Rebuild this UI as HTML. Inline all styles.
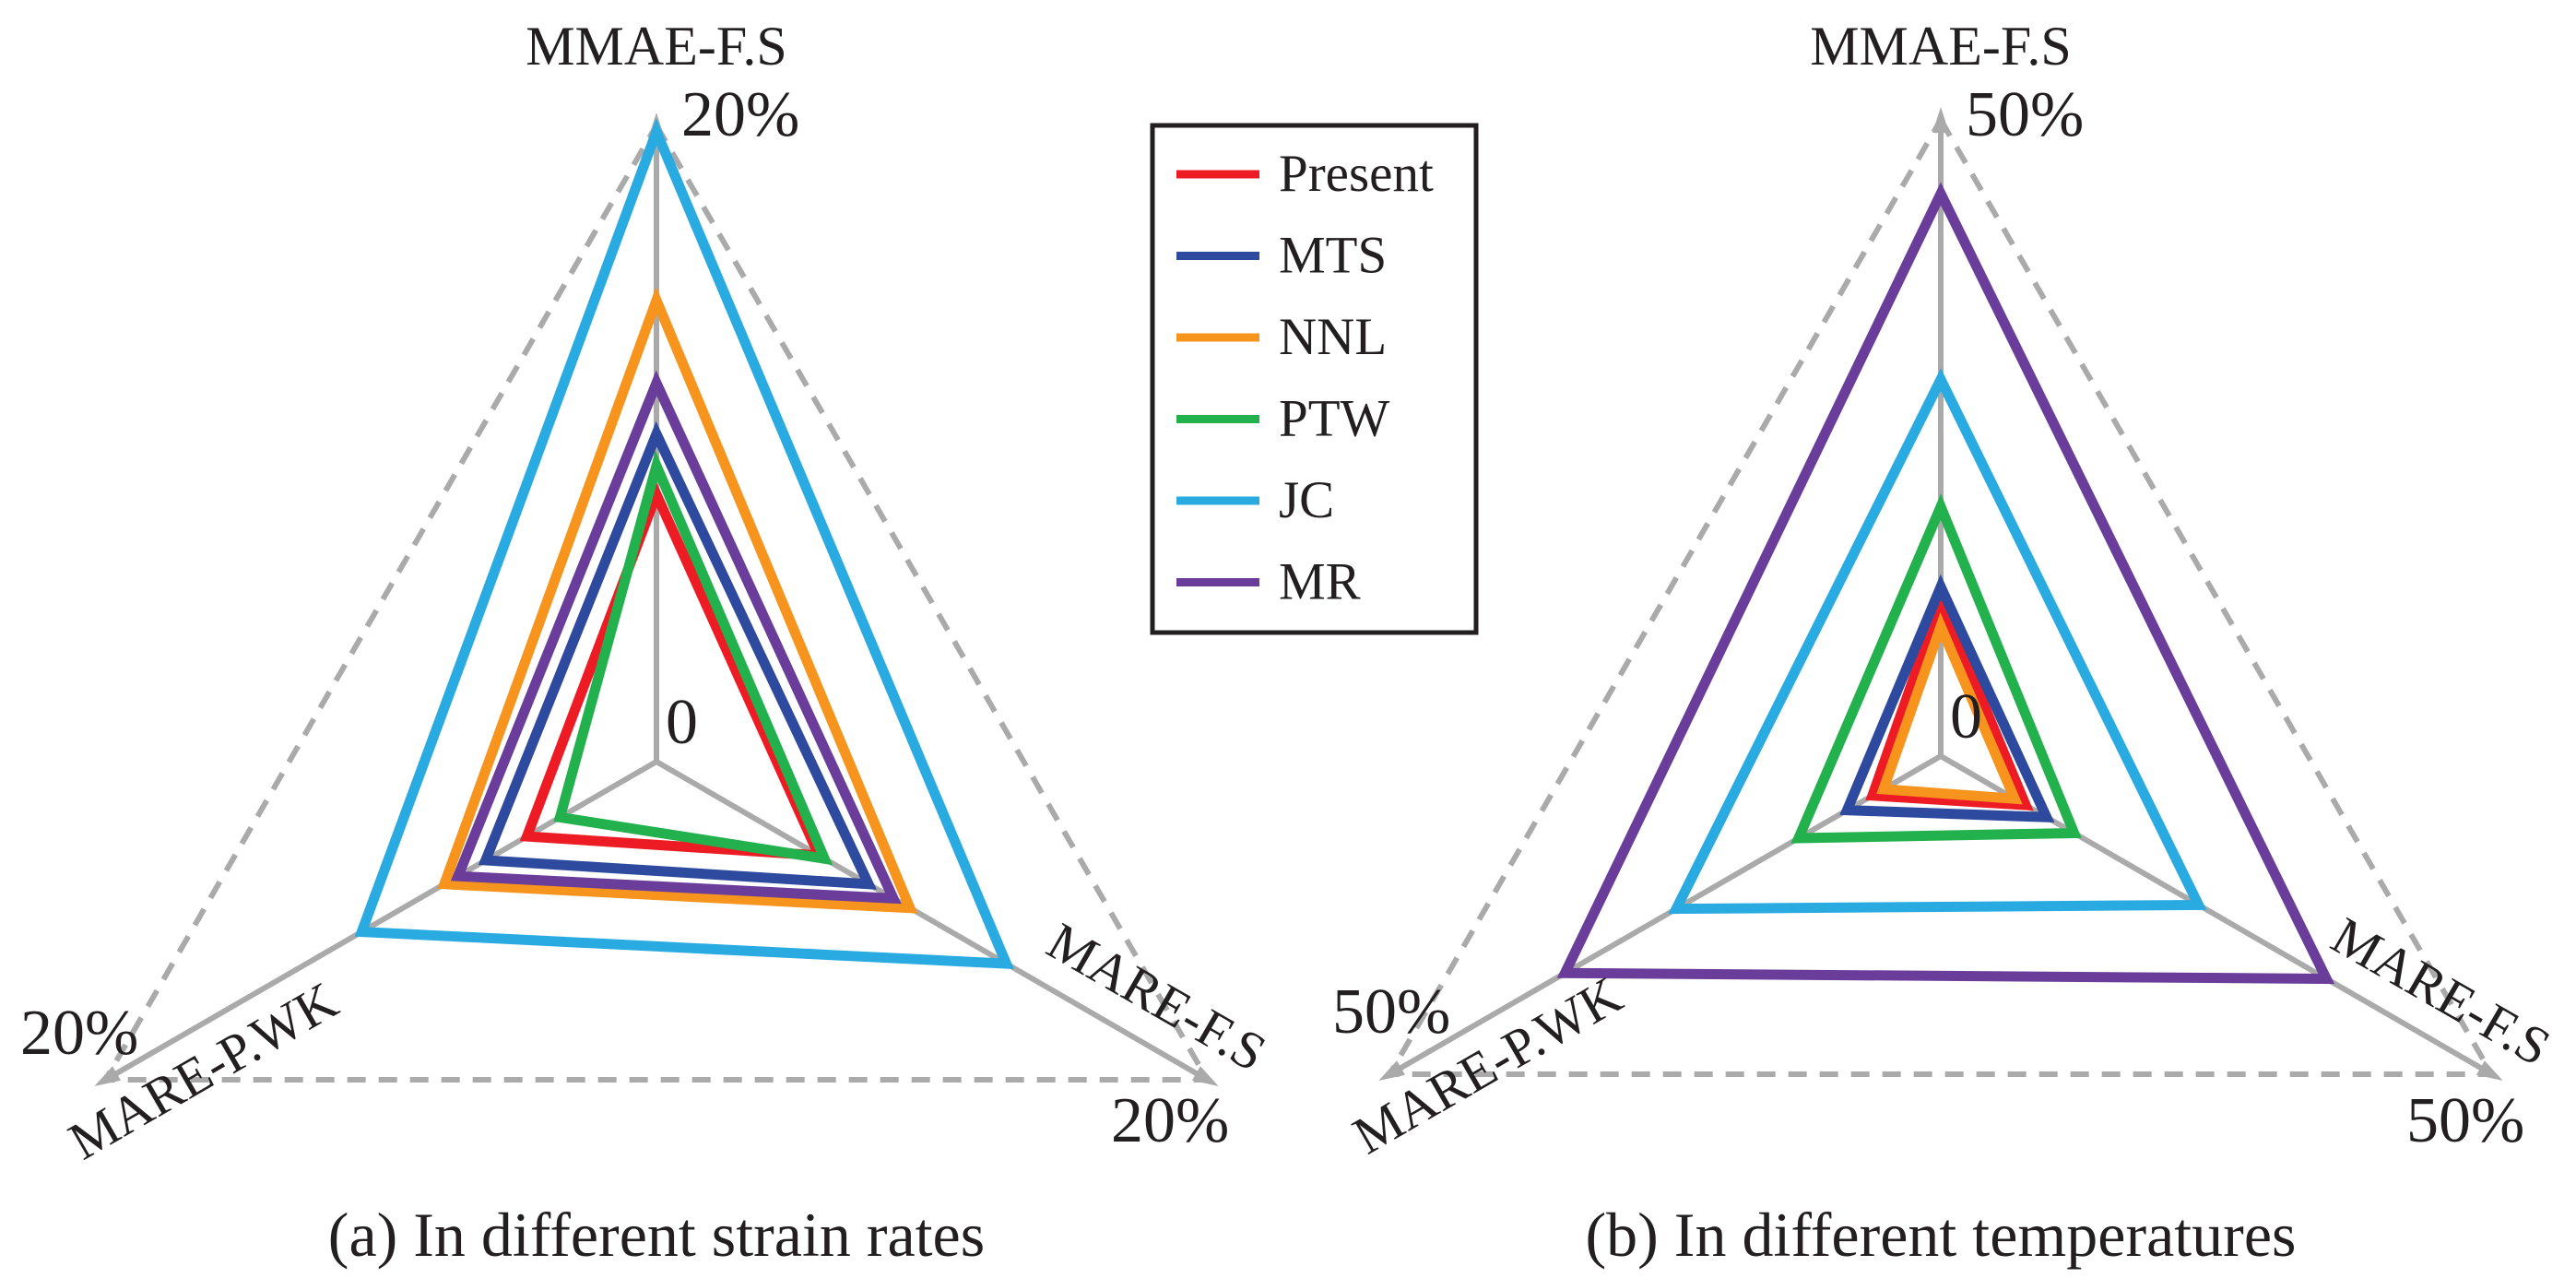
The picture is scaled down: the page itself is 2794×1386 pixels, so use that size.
<!DOCTYPE html>
<html><head><meta charset="utf-8"><style>
html,body{margin:0;padding:0;background:#fff;}
svg text{font-family:"Liberation Serif","DejaVu Serif","Times New Roman",serif !important;fill:#231f20;}
</style></head><body>
<svg id="chart" width="2794" height="1381" viewBox="0 0 2794 1381" xmlns="http://www.w3.org/2000/svg" font-family="Liberation Serif, DejaVu Serif, serif">
<g id="legend">
<rect x="1250" y="136" width="351" height="550" fill="#fff" stroke="#231f20" stroke-width="5"/>
</g>
</svg>
<script>
const seriesNames = ["Present","MTS","NNL","PTW","JC","MR"];
const seriesColors = ["#ed1c24","#2e4a9e","#f7941d","#22b14c","#29abe2","#6a3d9a"];
const axisNames = ["MMAE-F.S","MARE-F.S","MARE-P.WK"];
// values [top, lower-right, lower-left] in %
const strainPresent = [8.4, 5.9, 4.7];
const strainMTS = [10.3, 7.7, 6.2];
const strainNNL = [14.5, 9.2, 7.7];
const strainPTW = [9.3, 6.1, 3.5];
const strainJC = [19.8, 12.7, 10.7];
const strainMR = [11.9, 8.6, 7.2];
const tempPresent = [12.2, 7.7, 6.2];
const tempMTS = [13.3, 9.6, 8.5];
const tempNNL = [10.2, 6.7, 5.2];
const tempPTW = [19.6, 12.1, 12.9];
const tempJC = [29.6, 23.4, 24.0];
const tempMR = [44.2, 35.0, 34.1];
const strainMax = 20, tempMax = 50;
const strainTick = "20%", tempTick = "50%";

const NS = "http://www.w3.org/2000/svg";
const FONT = "Liberation Serif, DejaVu Serif, serif";
const svg = document.getElementById('chart');
function mk(tag, attrs, parent){const e=document.createElementNS(NS,tag);for(const k in attrs)e.setAttribute(k,attrs[k]);if(tag==='text')e.setAttribute('font-family',FONT);(parent||svg).appendChild(e);return e;}
const R = 690;
const angles = [-90, 30, 150];
function pt(cx,cy,r,i){const a=angles[i]*Math.PI/180;return [cx+r*Math.cos(a), cy+r*Math.sin(a)];}

function drawPanel(cx, cy, max, tick, data, caption, key){
  const g = mk('g',{});
  
  
  const ends=[0,1,2].map(i=>pt(cx,cy,R,i));
  const tri = mk('polygon',{points:ends.map(p=>p.join(',')).join(' '),fill:'none',stroke:'#aaa','stroke-width':6,'stroke-dasharray':'20 14'},g);
  
  
  for(let i=0;i<3;i++){
    const e=pt(cx,cy,R-12,i);
    const ax = mk('line',{x1:cx,y1:cy,x2:e[0],y2:e[1],stroke:'#aaa','stroke-width':6},g);
    
    
    const a=angles[i]*Math.PI/180, tip=pt(cx,cy,R+14,i);
    const px=-Math.sin(a), py=Math.cos(a);
    const b=pt(cx,cy,R-14,i);
    const ah = mk('polygon',{points:`${tip[0]},${tip[1]} ${b[0]+px*9},${b[1]+py*9} ${b[0]-px*9},${b[1]-py*9}`,fill:'#aaa'},g);
    
    
  }
  data.forEach((vals,si)=>{
    const pts=vals.map((v,i)=>pt(cx,cy,R*v/max,i));
    const poly = mk('polygon',{points:pts.map(p=>p.join(',')).join(' '),fill:'none',stroke:seriesColors[si],'stroke-width':11,'stroke-linejoin':'miter'},g);
    
    
  });
  const t1 = mk('text',{x:cx,y:70,'font-size':60,'text-anchor':'middle'},g); t1.textContent=axisNames[0];
  
  
  const zero = mk('text',{x:cx+10,y:cy-20,'font-size':70},g); zero.textContent="0";
  
  
  const tt = mk('text',{x:cx+27,y:147,'font-size':70},g); tt.textContent=tick;
  
  
  const tl = mk('text',{x:cx-(key==='strain'?690:660),y:(key==='strain'?1143:1120),'font-size':70},g); tl.textContent=tick;
  
  
  const tr = mk('text',{x:cx+(key==='strain'?493:505),y:1238,'font-size':70},g); tr.textContent=tick;
  
  
  const lr = mk('text',{x:0,y:0,'font-size':58,'text-anchor':'middle',transform:`translate(${cx+533},${cy+272}) rotate(30)`},g); lr.textContent=axisNames[1];
  
  
  const ll = mk('text',{x:0,y:0,'font-size':58,'text-anchor':'middle',transform:`translate(${cx-482},${cy+352}) rotate(-30)`},g); ll.textContent=axisNames[2];
  
  
  const cap = mk('text',{x:cx,y:1362,'font-size':68,'text-anchor':'middle'},g); cap.textContent=caption;
  
  
}
drawPanel(712, 826, strainMax, strainTick, [strainPresent,strainMTS,strainNNL,strainPTW,strainJC,strainMR], "(a) In different strain rates", "strain");
drawPanel(2105, 820, tempMax, tempTick, [tempPresent,tempMTS,tempNNL,tempPTW,tempJC,tempMR], "(b) In different temperatures", "temp");

const lg = document.getElementById('legend');
svg.appendChild(lg);
seriesNames.forEach((n,i)=>{
  const y=189+i*88.5;
  const ln = mk('line',{x1:1276,y1:y,x2:1366,y2:y,stroke:seriesColors[i],'stroke-width':9},lg);
  
  
  const tx = mk('text',{x:1387,y:y+18,'font-size':57},lg); tx.textContent=n;
  
  
});
</script>
</body></html>
